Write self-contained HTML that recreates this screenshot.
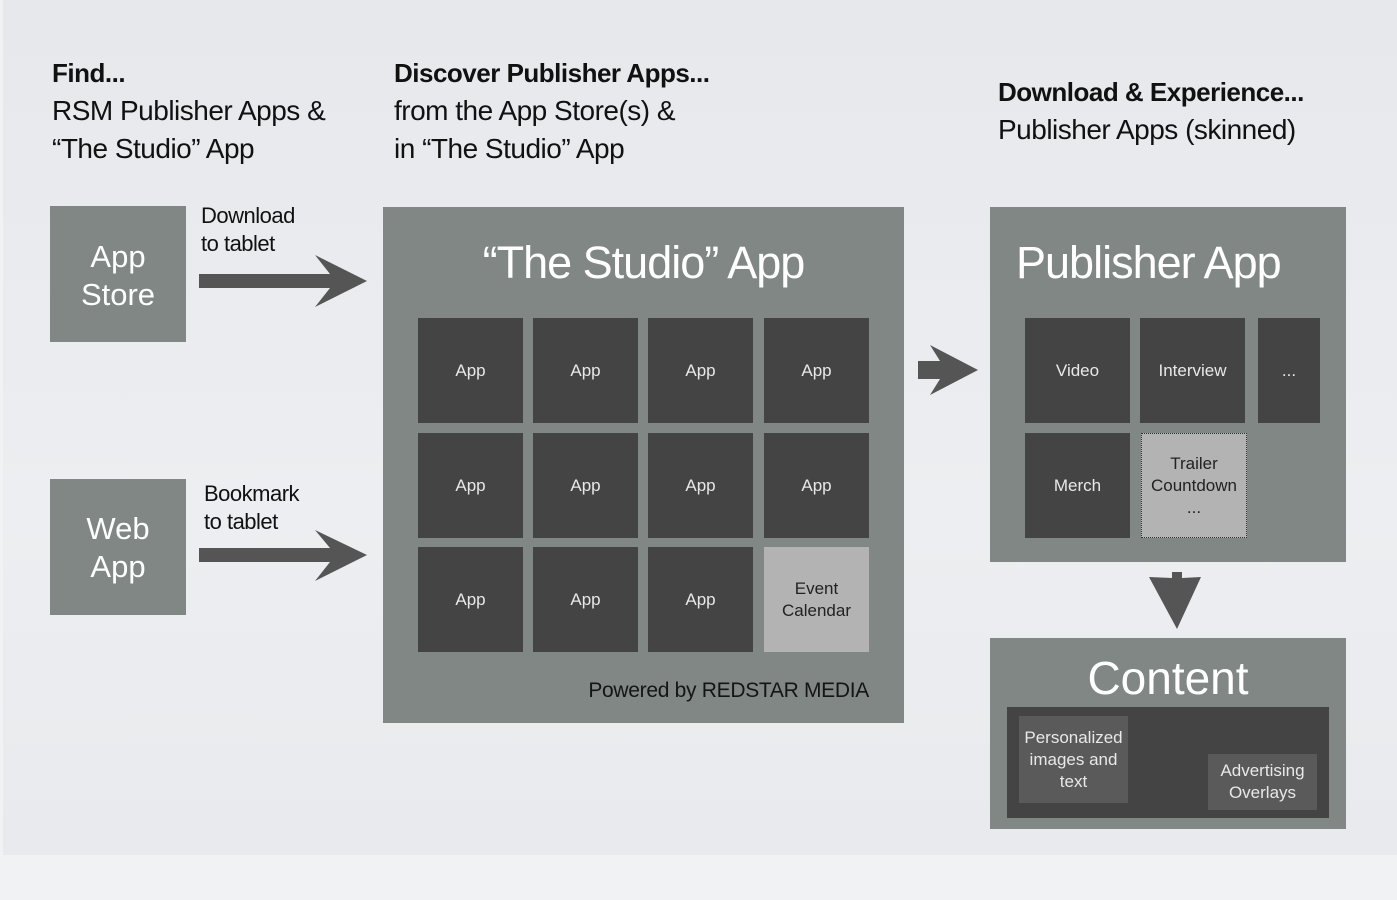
<!DOCTYPE html>
<html><head><meta charset="utf-8"><style>
body{margin:0;width:1397px;height:900px;overflow:hidden;background:#f1f2f4;font-family:"Liberation Sans",sans-serif;}
#slide{position:absolute;left:3px;top:0;width:1394px;height:855px;background:linear-gradient(180deg,#e6e8ec 0%,#eceef1 60%,#e8eaed 100%);}
.a{position:absolute;}
.box{position:absolute;background:#818785;}
.c{position:absolute;background:#444444;color:#e8e8e8;font-size:17px;display:flex;align-items:center;justify-content:center;text-align:center;line-height:22px;}
.t{position:absolute;color:#111;font-size:28px;line-height:38px;white-space:nowrap;letter-spacing:-0.5px;}
.t b{font-size:26px;}
.w{color:#fff;text-align:center;}
</style></head><body>
<div id="slide"></div>
<div class="t" style="left:52px;top:54px"><b>Find...</b><br>RSM Publisher Apps &amp;<br>“The Studio” App</div>
<div class="t" style="left:394px;top:54px"><b>Discover Publisher Apps...</b><br>from the App Store(s) &amp;<br>in “The Studio” App</div>
<div class="t" style="left:998px;top:73px"><b>Download &amp; Experience...</b><br>Publisher Apps (skinned)</div>

<div class="box" style="left:50px;top:206px;width:136px;height:136px"></div>
<div class="a w" style="left:50px;top:238px;width:136px;font-size:31px;line-height:38px">App<br>Store</div>
<div class="box" style="left:50px;top:479px;width:136px;height:136px"></div>
<div class="a w" style="left:50px;top:510px;width:136px;font-size:31px;line-height:38px">Web<br>App</div>
<div class="t" style="left:201px;top:202px;font-size:22px;line-height:28px">Download<br>to tablet</div>
<div class="t" style="left:204px;top:480px;font-size:22px;line-height:28px">Bookmark<br>to tablet</div>

<svg class="a" style="left:0;top:0" width="1397" height="900">
<g fill="#555555">
<polygon points="199,274 330,274 315,255 367,281 315,307 330,288 199,288"/>
<polygon points="199,548 330,548 315,530 367,555 315,581 330,562 199,562"/>
<polygon points="918,361 940,361 930,345 978,370 930,395 940,379 918,379"/>
<polygon points="1172,572 1182,572 1182,578 1201,577 1177,629 1149,577 1172,578"/>
</g></svg>

<div class="box" style="left:383px;top:207px;width:521px;height:516px"></div>
<div class="a w" style="left:383px;top:236px;width:521px;font-size:45px;line-height:54px;letter-spacing:-1px">“The Studio” App</div>
<div class="c" style="left:418px;top:318px;width:105px;height:105px">App</div>
<div class="c" style="left:533px;top:318px;width:105px;height:105px">App</div>
<div class="c" style="left:648px;top:318px;width:105px;height:105px">App</div>
<div class="c" style="left:764px;top:318px;width:105px;height:105px">App</div>
<div class="c" style="left:418px;top:433px;width:105px;height:105px">App</div>
<div class="c" style="left:533px;top:433px;width:105px;height:105px">App</div>
<div class="c" style="left:648px;top:433px;width:105px;height:105px">App</div>
<div class="c" style="left:764px;top:433px;width:105px;height:105px">App</div>
<div class="c" style="left:418px;top:547px;width:105px;height:105px">App</div>
<div class="c" style="left:533px;top:547px;width:105px;height:105px">App</div>
<div class="c" style="left:648px;top:547px;width:105px;height:105px">App</div>
<div class="c" style="left:764px;top:547px;width:105px;height:105px;background:#b3b3b3;color:#222">Event<br>Calendar</div>
<div class="a" style="left:540px;top:679px;width:329px;text-align:right;font-size:21px;color:#151515;letter-spacing:-0.3px">Powered by REDSTAR MEDIA</div>

<div class="box" style="left:990px;top:207px;width:356px;height:355px"></div>
<div class="a" style="left:1016px;top:236px;font-size:45px;line-height:54px;color:#fff;letter-spacing:-1px">Publisher App</div>
<div class="c" style="left:1025px;top:318px;width:105px;height:105px">Video</div>
<div class="c" style="left:1140px;top:318px;width:105px;height:105px">Interview</div>
<div class="c" style="left:1258px;top:318px;width:62px;height:105px">...</div>
<div class="c" style="left:1025px;top:433px;width:105px;height:105px">Merch</div>
<div class="c" style="left:1141px;top:433px;width:104px;height:103px;background:#b3b3b3;color:#222;border:1px dotted #333">Trailer<br>Countdown<br>...</div>

<div class="box" style="left:990px;top:638px;width:356px;height:191px"></div>
<div class="a w" style="left:990px;top:650px;width:356px;font-size:46px;line-height:56px">Content</div>
<div class="a" style="left:1007px;top:707px;width:322px;height:111px;background:#444"></div>
<div class="c" style="left:1019px;top:716px;width:109px;height:87px;background:#5a5a5a">Personalized<br>images and<br>text</div>
<div class="c" style="left:1208px;top:754px;width:109px;height:56px;background:#5a5a5a">Advertising<br>Overlays</div>
</body></html>
